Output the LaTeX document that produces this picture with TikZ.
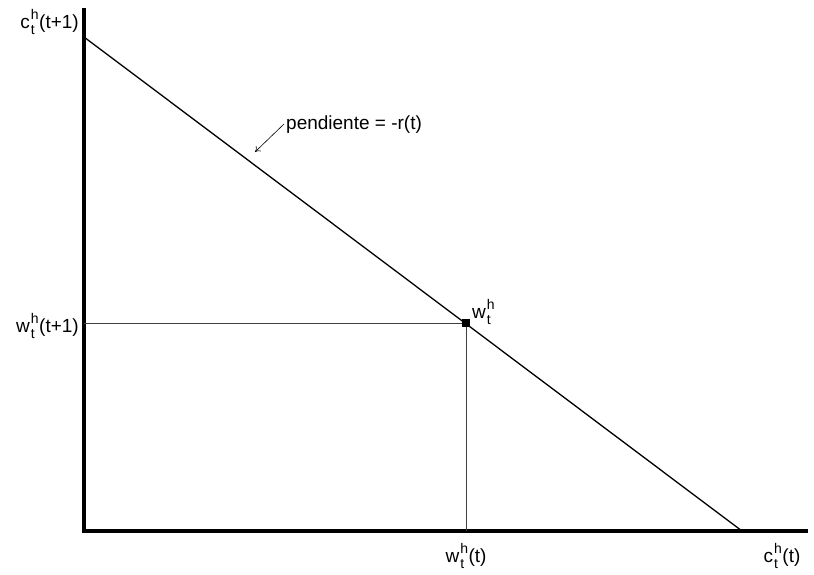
\documentclass[tikz,border=0pt]{standalone}
\usepackage{fontspec}
\setmainfont{Liberation Sans}
\usetikzlibrary{arrows.meta}
\newcommand{\hsub}[1]{#1\kern1pt{\fontsize{14}{14}\selectfont\rlap{\raisebox{-6.5pt}{t}}\raisebox{9pt}{h}}\kern0.5pt}
\begin{document}
\begin{tikzpicture}[x=1pt,y=-1pt,font=\fontsize{19}{22}\selectfont,
    >={To[length=5pt,width=7pt]}]
    \useasboundingbox (0,0) rectangle (814,575);
    % axes
    \coordinate (O) at (84,531);
    \coordinate (ytop) at (84,8);
    \coordinate (xend) at (808,531);
    \draw[line width=3.5pt] (ytop) -- (O) -- (xend);
    % budget line
    \coordinate (A) at (84,37);
    \coordinate (B) at (742,531);
    \draw[line width=1.3pt] (A) -- (B);
    % endowment point
    \coordinate (W) at (466,323);
    \coordinate (Wy) at (84,323);
    \coordinate (Wx) at (466,531);
    \draw[line width=0.7pt, black!75] (Wy) -- (W) -- (Wx);
    \fill (W) ++(-4,-4) rectangle ++(8,8);
    % labels
    \node[anchor=east, inner sep=0pt] (cy) at (79,22) {\hsub{c}(t+1)};
    \node[anchor=east, inner sep=0pt] (wy) at (79,326) {\hsub{w}(t+1)};
    \node[inner sep=0pt] (wx) at (466,556) {\hsub{w}(t)};
    \node[inner sep=0pt] (cx) at (782,556) {\hsub{c}(t)};
    \node[anchor=west, inner sep=0pt] (wp) at (472,312) {\hsub{w}};
    \node[anchor=west, inner sep=0pt] (slope) at (286,125) {pendiente = -r(t)};
    \coordinate (tip) at (255,152);
    \draw[->, line width=0.6pt] (slope.west) ++(-2,-1) -- (tip);
\end{tikzpicture}
\end{document}
